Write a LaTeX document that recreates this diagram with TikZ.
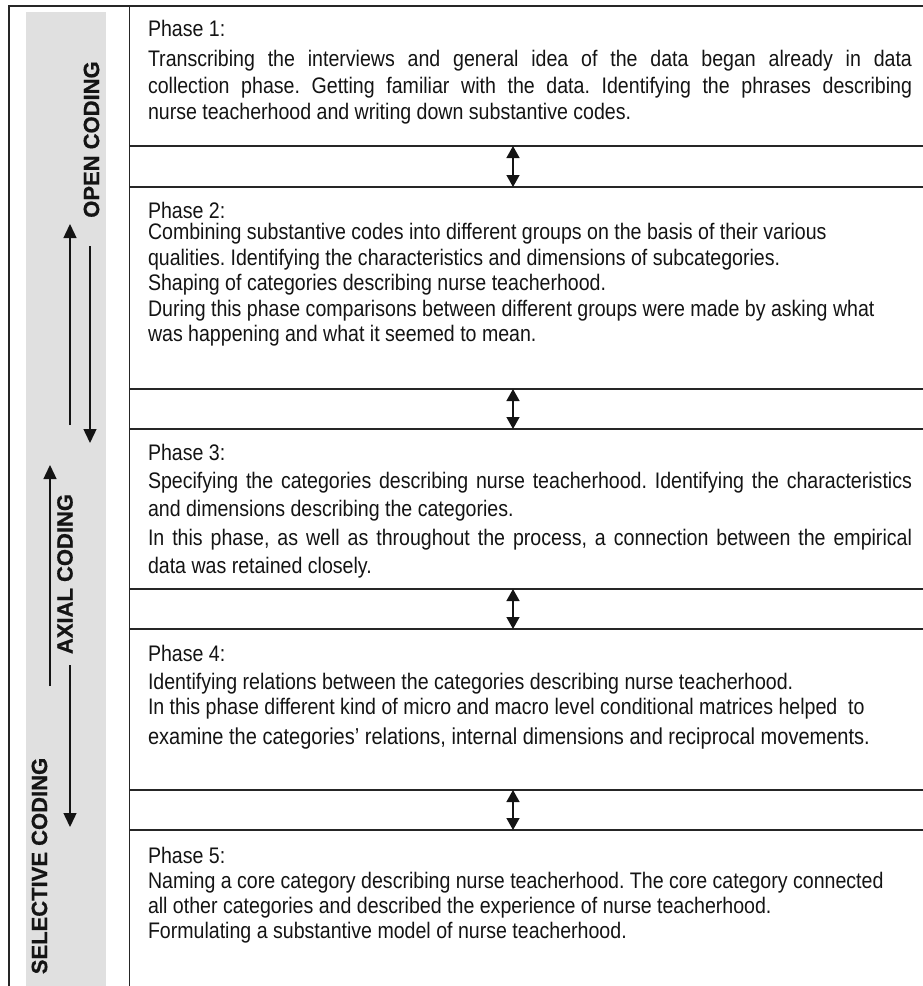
\documentclass[tikz,border=0pt]{standalone}
\usepackage{fontspec}
\setmainfont{Liberation Sans}[BoldFont={Liberation Sans Bold}]
\newfontfamily\bodyfont[FakeStretch=0.87]{Liberation Sans}
\newfontfamily\labelfont[FakeBold=0.8]{Liberation Sans}
\usetikzlibrary{arrows.meta}
\definecolor{bandgray}{RGB}{224,224,224}
\definecolor{ink}{RGB}{20,20,20}
\frenchspacing
\begin{document}
\frenchspacing
\begin{tikzpicture}[x=1pt,y=-1pt,
  frame/.style={line width=1.6pt, draw=black!85},
  ln/.style={anchor=base west, inner sep=0pt, outer sep=0pt, font=\bodyfont\fontsize{22.5}{26}\selectfont, text=ink},
  vlabel/.style={rotate=90, inner sep=0pt, font=\labelfont\fontsize{22}{26}\selectfont\bfseries, text=ink},
  updown/.style={line width=1.4pt, draw=ink, {Triangle[width=13pt,length=12pt]}-{Triangle[width=13pt,length=12pt]}},
  sidearrow/.style={line width=1.4pt, draw=ink, -{Triangle[width=13pt,length=14pt]}},
]
\useasboundingbox (0,0) rectangle (923,986);

% grey band
\fill[bandgray] (26,12) rectangle (106,986);

% frame
\draw[frame] (9,986) -- (9,6) -- (923,6);
\draw[frame] (129.5,6) -- (129.5,986);
\foreach \yy in {146,187,389,429,589,629,790,830}
  \draw[frame] (129.5,\yy) -- (923,\yy);

% double arrows between phases
\coordinate (d1a) at (513,146); \coordinate (d1b) at (513,187);
\coordinate (d2a) at (513,389); \coordinate (d2b) at (513,429);
\coordinate (d3a) at (513,589); \coordinate (d3b) at (513,629);
\coordinate (d4a) at (513,790); \coordinate (d4b) at (513,830);
\draw[updown] (d1a) -- (d1b);
\draw[updown] (d2a) -- (d2b);
\draw[updown] (d3a) -- (d3b);
\draw[updown] (d4a) -- (d4b);

% side labels
\node[vlabel] (open) at (91.5,139.5) {OPEN CODING};
\node[vlabel] (axial) at (65,574) {AXIAL CODING};
\node[vlabel] (selective) at (39.5,866) {SELECTIVE CODING};

% side arrows
\coordinate (a1s) at (70,425); \coordinate (a1e) at (70,224);
\coordinate (a2s) at (90,246); \coordinate (a2e) at (90,443);
\coordinate (a3s) at (50,686); \coordinate (a3e) at (50,465);
\coordinate (a4s) at (70,665); \coordinate (a4e) at (70,827);
\draw[sidearrow] (a1s) -- (a1e);
\draw[sidearrow] (a2s) -- (a2e);
\draw[sidearrow] (a3s) -- (a3e);
\draw[sidearrow] (a4s) -- (a4e);

% Phase 1
\node[ln] (p1t) at (148,36.5) {Phase 1:};
\node[ln] (p1a) at (148,66) {\makebox[764pt][s]{Transcribing the interviews and general idea of the data began already in data}};
\node[ln] (p1b) at (148,93) {\makebox[764pt][s]{collection phase. Getting familiar with the data. Identifying the phrases describing}};
\node[ln] (p1c) at (148,119.5) {nurse teacherhood and writing down substantive codes.};

% Phase 2
\node[ln] (p2t) at (148,218) {Phase 2:};
\node[ln] (p2a) at (148,239.5) {Combining substantive codes into different groups on the basis of their various};
\node[ln] (p2b) at (148,265) {qualities. Identifying the characteristics and dimensions of subcategories.};
\node[ln] (p2c) at (148,290.5) {Shaping of categories describing nurse teacherhood.};
\node[ln] (p2d) at (148,316) {During this phase comparisons between different groups were made by asking what};
\node[ln] (p2e) at (148,341.5) {was happening and what it seemed to mean.};

% Phase 3
\node[ln] (p3t) at (148,460) {Phase 3:};
\node[ln] (p3a) at (148,488) {\makebox[764pt][s]{Specifying the categories describing nurse teacherhood. Identifying the characteristics}};
\node[ln] (p3b) at (148,516) {and dimensions describing the categories.};
\node[ln] (p3c) at (148,545) {\makebox[764pt][s]{In this phase, as well as throughout the process, a connection between the empirical}};
\node[ln] (p3d) at (148,573) {data was retained closely.};

% Phase 4
\node[ln] (p4t) at (148,661) {Phase 4:};
\node[ln] (p4a) at (148,689) {Identifying relations between the categories describing nurse teacherhood.};
\node[ln] (p4b) at (148,714) {In this phase different kind of micro and macro level conditional matrices helped\ \ to};
\node[ln, font=\bodyfont\fontsize{23}{26}\selectfont] (p4c) at (148,744) {examine the categories’ relations, internal dimensions and reciprocal movements.};

% Phase 5
\node[ln] (p5t) at (148,863) {Phase 5:};
\node[ln] (p5a) at (148,888) {Naming a core category describing nurse teacherhood. The core category connected};
\node[ln] (p5b) at (148,913) {all other categories and described the experience of nurse teacherhood.};
\node[ln] (p5c) at (148,938) {Formulating a substantive model of nurse teacherhood.};
\end{tikzpicture}
\end{document}
